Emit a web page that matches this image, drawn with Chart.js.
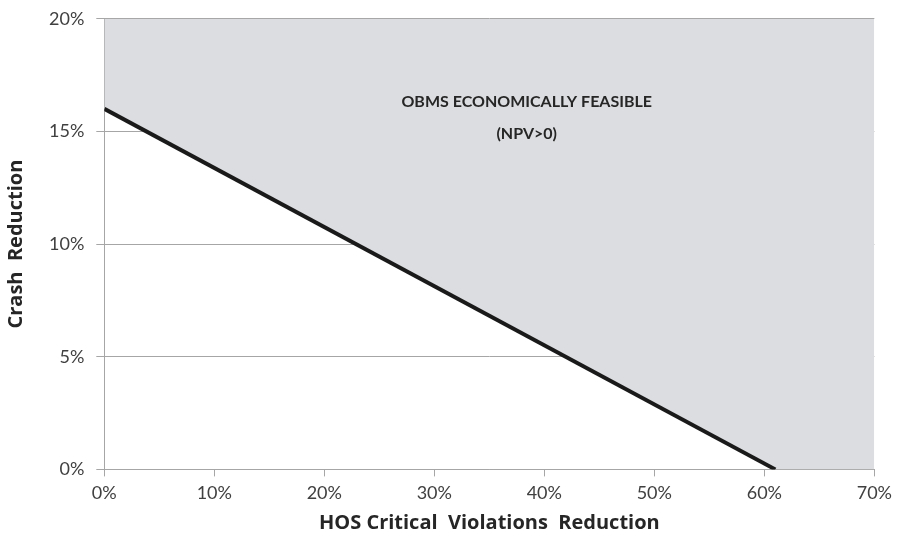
<!DOCTYPE html>
<html>
<head>
<meta charset="utf-8">
<script src="https://cdn.jsdelivr.net/npm/chart.js@4"></script>
<style>
  html, body { margin: 0; padding: 0; background: #fff; }
  #wrap { width: 898px; height: 540px; }
</style>
</head>
<body>
<div id="wrap"><canvas id="chart"></canvas></div>
<script>
// break-even line: HOS violations reduction (%) vs crash reduction (%)
const hosReduction = [0, 61];
const crashReduction = [16, 0];
// feasible region edge continues along the x axis to the end of the scale
const regionX = [0, 61, 70];
const regionY = [16, 0, 0];
const xTicks = [0, 10, 20, 30, 40, 50, 60, 70];
const yTicks = [0, 5, 10, 15, 20];
const regionLabel = ['OBMS ECONOMICALLY FEASIBLE', '(NPV>0)'];

const font = 'Lato, "Open Sans", sans-serif';
const titleFont = '"Open Sans", Lato, sans-serif';

const labelPlugin = {
    id: 'regionLabel',
    afterDatasetsDraw(chart) {
        const { ctx, scales } = chart;
        const cx = scales.x.getPixelForValue(38.4);
        ctx.save();
        ctx.fillStyle = '#262626';
        ctx.font = 'bold 16px ' + font;
        ctx.textAlign = 'center';
        ctx.textBaseline = 'middle';
        ctx.fillText(regionLabel[0], cx, scales.y.getPixelForValue(16.3));
        ctx.fillText(regionLabel[1], cx, scales.y.getPixelForValue(14.87));
        ctx.restore();
    }
};

const ctx = document.getElementById('chart').getContext('2d');
new Chart(ctx, {
    type: 'line',
    data: {
        datasets: [{
            data: regionX.map((x, i) => ({ x: x, y: regionY[i] })),
            borderWidth: 0,
            borderColor: 'rgba(0,0,0,0)',
            backgroundColor: '#dcdde0',
            pointRadius: 0,
            fill: 'end',
            order: 1
        }, {
            data: hosReduction.map((x, i) => ({ x: x, y: crashReduction[i] })),
            borderColor: '#1a1a1a',
            borderWidth: 4,
            pointRadius: 0,
            fill: false,
            order: 0
        }]
    },
    options: {
        responsive: true,
        maintainAspectRatio: false,
        animation: false,
        layout: { padding: { top: 9, right: 6, left: 0, bottom: 1 } },
        plugins: { legend: { display: false }, tooltip: { enabled: false } },
        scales: {
            x: {
                type: 'linear',
                min: 0,
                max: 70,
                afterBuildTicks: axis => { axis.ticks = xTicks.map(v => ({ value: v })); },
                ticks: {
                    callback: v => v + '%',
                    color: '#404040',
                    font: { family: font, size: 18 },
                    padding: 6,
                    maxRotation: 0
                },
                grid: {
                    drawOnChartArea: false,
                    drawTicks: true,
                    tickLength: 7,
                    color: '#a6a6a6'
                },
                border: { color: '#a6a6a6', width: 1 },
                title: {
                    display: true,
                    text: 'HOS Critical  Violations  Reduction',
                    color: '#262626',
                    font: { family: titleFont, size: 20, weight: 'bold' },
                    padding: { top: 1 }
                }
            },
            y: {
                min: 0,
                max: 20,
                afterBuildTicks: axis => { axis.ticks = yTicks.map(v => ({ value: v })); },
                ticks: {
                    callback: v => v + '%',
                    color: '#404040',
                    font: { family: font, size: 18, lineHeight: 0.75 },
                    padding: 12
                },
                grid: {
                    color: '#a6a6a6',
                    tickLength: 8
                },
                border: { color: '#a6a6a6', width: 1 },
                title: {
                    display: true,
                    text: 'Crash  Reduction',
                    color: '#262626',
                    font: { family: titleFont, size: 20, weight: 'bold' },
                    padding: { bottom: 9 }
                }
            }
        }
    },
    plugins: [labelPlugin]
});
</script>
</body>
</html>
